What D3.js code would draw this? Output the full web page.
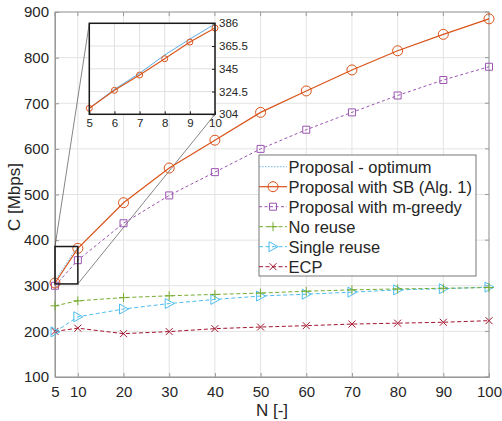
<!DOCTYPE html>
<html>
<head>
<meta charset="utf-8">
<script src="https://d3js.org/d3.v7.min.js"></script>
<style>
  body { margin: 0; background: #fff; }
  text { font-family: "Liberation Sans", Arial, Helvetica, sans-serif; fill: #262626; }
</style>
</head>
<body>
<div id="chart"></div>
<script>
// main plot data, N on the x axis
var nMain = [5, 10, 20, 30, 40, 50, 60, 70, 80, 90, 100];
var sbMain = [306, 382, 482, 558, 619, 680, 727, 773, 815, 851, 885];
var greedyMain = [300, 356, 437, 498, 549, 600, 642, 680, 717, 751, 780];
var noReuse = [256, 267, 274, 278, 281, 284, 288, 291, 293, 294.5, 296];
var singleReuse = [199, 232, 249, 261, 270, 277.5, 281.5, 286, 291, 293.5, 297];
var ecp = [200, 207, 195, 199.5, 206, 209.5, 212.5, 216, 218, 220, 223.5];

// zoomed inset, N = 5..10
var nInset = [5, 6, 7, 8, 9, 10];
var optInset = [309.4, 326.5, 341, 357.4, 371.8, 385.4];
var sbInset = [309.4, 325.6, 339.4, 354.1, 369.1, 381.7];

var xTicks = [5, 10, 20, 30, 40, 50, 60, 70, 80, 90, 100];
var yTicks = [100, 200, 300, 400, 500, 600, 700, 800, 900];
var insetXTicks = [5, 6, 7, 8, 9, 10];
var insetYTicks = [304, 324.5, 345, 365.5, 386];

var legendLabels = ["Proposal - optimum", "Proposal with SB (Alg. 1)", "Proposal with m-greedy",
    "No reuse", "Single reuse", "ECP"];

var colors = {
    opt: "#4aa3df",
    sb: "#D95319",
    greedy: "#9b55b0",
    noReuse: "#77AC30",
    single: "#4DBEEE",
    ecp: "#A2142F"
};

var W = 502, H = 421;
var svg = d3.select("#chart").append("svg")
    .attr("width", W).attr("height", H);

var x = d3.scaleLinear().domain([5, 100]).range([55, 489]);
var y = d3.scaleLinear().domain([100, 900]).range([377, 12]);

// grid
svg.append("g").selectAll("line").data(xTicks).enter().append("line")
    .attr("x1", d => x(d)).attr("x2", d => x(d))
    .attr("y1", y(100)).attr("y2", y(900))
    .attr("stroke", "#e3e3e3").attr("stroke-width", 1);
svg.append("g").selectAll("line").data(yTicks).enter().append("line")
    .attr("x1", x(5)).attr("x2", x(100))
    .attr("y1", d => y(d)).attr("y2", d => y(d))
    .attr("stroke", "#e3e3e3").attr("stroke-width", 1);

// axes box
svg.append("rect")
    .attr("x", x(5)).attr("y", y(900))
    .attr("width", x(100) - x(5)).attr("height", y(100) - y(900))
    .attr("fill", "none").attr("stroke", "#9a9a9a").attr("stroke-width", 1);

// axes with inward ticks
var xAxis = svg.append("g")
    .attr("transform", "translate(0," + y(100) + ")")
    .call(d3.axisBottom(x).tickValues(xTicks).tickSizeInner(-4).tickSizeOuter(0).tickPadding(9));
var yAxis = svg.append("g")
    .attr("transform", "translate(" + x(5) + ",0)")
    .call(d3.axisLeft(y).tickValues(yTicks).tickSizeInner(-4).tickSizeOuter(0).tickPadding(6));
[xAxis, yAxis].forEach(function (g) {
    g.select(".domain").attr("stroke", "#9a9a9a");
    g.selectAll(".tick line").attr("stroke", "#9a9a9a");
    g.selectAll(".tick text").style("font-size", "15px").attr("fill", "#262626");
});
// top / right ticks
svg.append("g").selectAll("line").data(xTicks).enter().append("line")
    .attr("x1", d => x(d)).attr("x2", d => x(d))
    .attr("y1", y(900)).attr("y2", y(900) + 4).attr("stroke", "#9a9a9a");
svg.append("g").selectAll("line").data(yTicks).enter().append("line")
    .attr("x1", x(100)).attr("x2", x(100) - 4)
    .attr("y1", d => y(d)).attr("y2", d => y(d)).attr("stroke", "#9a9a9a");

// axis labels
svg.append("text")
    .attr("x", (x(5) + x(100)) / 2).attr("y", 416)
    .attr("text-anchor", "middle").style("font-size", "17px")
    .text("N [-]");
svg.append("text")
    .attr("transform", "translate(20," + 197 + ") rotate(-90)")
    .attr("text-anchor", "middle").style("font-size", "17px")
    .text("C [Mbps]");

// zoom rectangle and connector lines
var insetBox = {x0: 89.3, x1: 215, y0: 23.3, y1: 114.3};
svg.append("line")
    .attr("x1", x(5)).attr("y1", y(386)).attr("x2", insetBox.x0).attr("y2", insetBox.y0)
    .attr("stroke", "#333").attr("stroke-width", 0.6);
svg.append("line")
    .attr("x1", x(10)).attr("y1", y(304)).attr("x2", insetBox.x1).attr("y2", insetBox.y1)
    .attr("stroke", "#333").attr("stroke-width", 0.6);

// marker helpers
function marker(g, type, color, size) {
    var s = size;
    if (type === "circle") {
        return g.append("circle").attr("r", s).attr("fill", "none").attr("stroke", color).attr("stroke-width", 1);
    }
    var path = d3.path();
    if (type === "square") path.rect(-s, -s, 2 * s, 2 * s);
    if (type === "tri") {
        path.moveTo(-s * 0.8, -s); path.lineTo(s, 0); path.lineTo(-s * 0.8, s); path.closePath();
    }
    if (type === "plus") {
        path.moveTo(-s, 0); path.lineTo(s, 0); path.moveTo(0, -s); path.lineTo(0, s);
    }
    if (type === "cross") {
        path.moveTo(-s, -s); path.lineTo(s, s); path.moveTo(-s, s); path.lineTo(s, -s);
    }
    return g.append("path").attr("d", path.toString()).attr("fill", "none")
        .attr("stroke", color).attr("stroke-width", 1);
}

var series = [
    {vals: ecp, color: colors.ecp, dash: "4,2.5", mk: "cross", size: 3.5, w: 1},
    {vals: singleReuse, color: colors.single, dash: "4,2.5", mk: "tri", size: 5, w: 1},
    {vals: noReuse, color: colors.noReuse, dash: "4,2.5", mk: "plus", size: 4.5, w: 1},
    {vals: greedyMain, color: colors.greedy, dash: "3,2.5", mk: "square", size: 3.5, w: 1},
    {vals: sbMain, color: colors.sb, dash: null, mk: "circle", size: 5, w: 1.2}
];

var line = d3.line().x(d => x(d[0])).y(d => y(d[1]));

series.forEach(function (s) {
    var pts = nMain.map((n, i) => [n, s.vals[i]]);
    svg.append("path").datum(pts)
        .attr("d", line).attr("fill", "none")
        .attr("stroke", s.color).attr("stroke-width", s.w)
        .attr("stroke-dasharray", s.dash);
    pts.forEach(function (p) {
        var g = svg.append("g").attr("transform", "translate(" + x(p[0]) + "," + y(p[1]) + ")");
        marker(g, s.mk, s.color, s.size);
    });
});

// optimum in main plot (N=5..10)
svg.append("path").datum(nInset.map((n, i) => [n, optInset[i]]))
    .attr("d", line).attr("fill", "none")
    .attr("stroke", colors.opt).attr("stroke-width", 0.8).attr("stroke-dasharray", "1.5,1.5");

svg.append("rect")
    .attr("x", x(5)).attr("y", y(386))
    .attr("width", x(10) - x(5)).attr("height", y(304) - y(386))
    .attr("fill", "none").attr("stroke", "#1a1a1a").attr("stroke-width", 1.5);

// inset
var xi = d3.scaleLinear().domain([5, 10]).range([insetBox.x0, insetBox.x1]);
var yi = d3.scaleLinear().domain([304, 386]).range([insetBox.y1, insetBox.y0]);
var inset = svg.append("g");
inset.append("rect")
    .attr("x", insetBox.x0).attr("y", insetBox.y0)
    .attr("width", insetBox.x1 - insetBox.x0).attr("height", insetBox.y1 - insetBox.y0)
    .attr("fill", "#fff");
inset.append("g").selectAll("line").data(insetXTicks).enter().append("line")
    .attr("x1", d => xi(d)).attr("x2", d => xi(d))
    .attr("y1", insetBox.y0).attr("y2", insetBox.y1)
    .attr("stroke", "#e0e0e0");
inset.append("g").selectAll("line").data(insetYTicks).enter().append("line")
    .attr("x1", insetBox.x0).attr("x2", insetBox.x1)
    .attr("y1", d => yi(d)).attr("y2", d => yi(d))
    .attr("stroke", "#e0e0e0");

var lineI = d3.line().x(d => xi(d[0])).y(d => yi(d[1]));
inset.append("path").datum(nInset.map((n, i) => [n, optInset[i]]))
    .attr("d", lineI).attr("fill", "none")
    .attr("stroke", colors.opt).attr("stroke-width", 0.9);
inset.append("path").datum(nInset.map((n, i) => [n, sbInset[i]]))
    .attr("d", lineI).attr("fill", "none")
    .attr("stroke", colors.sb).attr("stroke-width", 1.1);
nInset.forEach(function (n, i) {
    inset.append("circle")
        .attr("cx", xi(n)).attr("cy", yi(sbInset[i])).attr("r", 3)
        .attr("fill", "none").attr("stroke", colors.sb).attr("stroke-width", 1);
});
inset.append("rect")
    .attr("x", insetBox.x0).attr("y", insetBox.y0)
    .attr("width", insetBox.x1 - insetBox.x0).attr("height", insetBox.y1 - insetBox.y0)
    .attr("fill", "none").attr("stroke", "#1a1a1a").attr("stroke-width", 1.5);

inset.append("g")
    .attr("transform", "translate(0," + insetBox.y1 + ")")
    .call(d3.axisBottom(xi).tickValues(insetXTicks).tickFormat(d3.format("d")).tickSizeInner(-3).tickSizeOuter(0).tickPadding(5))
    .call(g => g.select(".domain").remove())
    .call(g => g.selectAll(".tick line").attr("stroke", "#1a1a1a"))
    .call(g => g.selectAll(".tick text").style("font-size", "11.5px").attr("fill", "#262626"));
inset.append("g")
    .attr("transform", "translate(" + insetBox.x1 + ",0)")
    .call(d3.axisRight(yi).tickValues(insetYTicks).tickFormat(d3.format("")).tickSizeInner(-3).tickSizeOuter(0).tickPadding(4))
    .call(g => g.select(".domain").remove())
    .call(g => g.selectAll(".tick line").attr("stroke", "#1a1a1a"))
    .call(g => g.selectAll(".tick text").style("font-size", "11.5px").attr("fill", "#262626"));

// legend
var leg = svg.append("g");
leg.append("rect")
    .attr("x", 259).attr("y", 155).attr("width", 217).attr("height", 121)
    .attr("fill", "#fff").attr("stroke", "#555").attr("stroke-width", 0.8);
var legStyles = [
    {color: colors.opt, dash: "1.5,1.5", mk: null, size: 0, w: 0.8},
    {color: colors.sb, dash: null, mk: "circle", size: 5, w: 1.2},
    {color: colors.greedy, dash: "3,2.5", mk: "square", size: 3.5, w: 1},
    {color: colors.noReuse, dash: "4,2.5", mk: "plus", size: 4.5, w: 1},
    {color: colors.single, dash: "4,2.5", mk: "tri", size: 5, w: 1},
    {color: colors.ecp, dash: "4,2.5", mk: "cross", size: 3.5, w: 1}
];
legendLabels.forEach(function (lab, i) {
    var cy = 166.7 + i * 20;
    var st = legStyles[i];
    leg.append("line")
        .attr("x1", 259).attr("x2", 287).attr("y1", cy).attr("y2", cy)
        .attr("stroke", st.color).attr("stroke-width", st.w)
        .attr("stroke-dasharray", st.dash);
    if (st.mk) {
        var g = leg.append("g").attr("transform", "translate(273," + cy + ")");
        marker(g, st.mk, st.color, st.size);
    }
    leg.append("text")
        .attr("x", 288.5).attr("y", cy + 6)
        .style("font-size", "16.5px")
        .text(lab);
});
</script>
</body>
</html>
